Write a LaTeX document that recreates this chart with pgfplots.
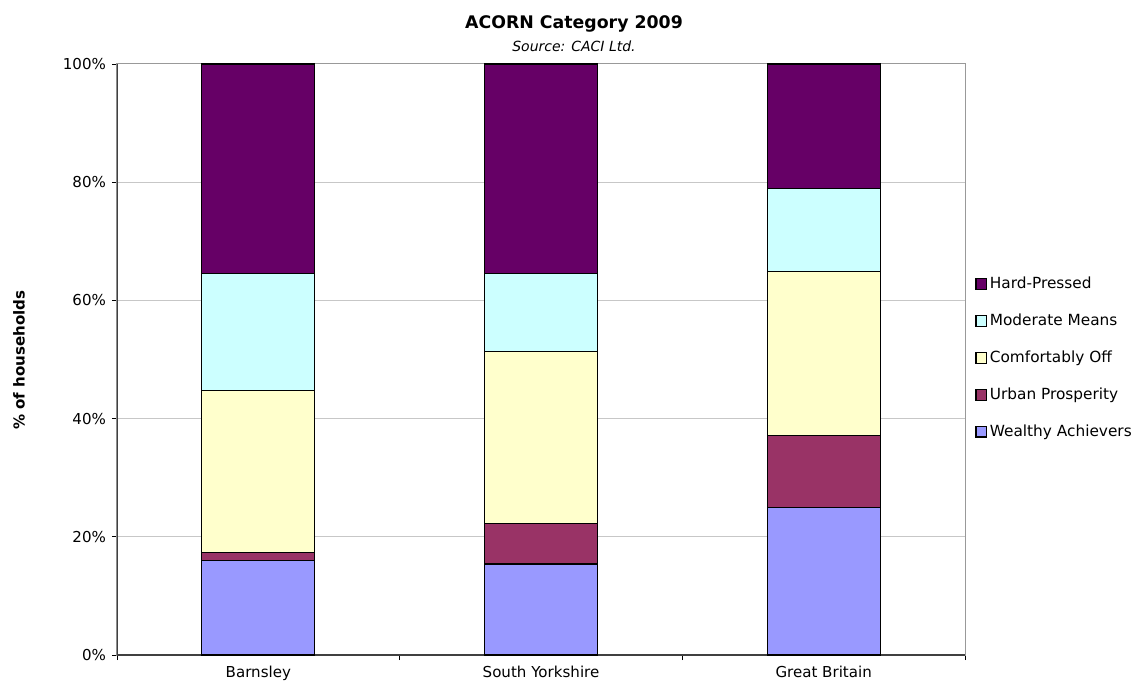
\documentclass[border=0pt]{standalone}
\usepackage{fontspec}
\setmainfont{DejaVu Sans}
\usepackage{pgfplots}
\pgfplotsset{compat=1.18}

\definecolor{hardp}{HTML}{660066}
\definecolor{moder}{HTML}{CCFFFF}
\definecolor{comfo}{HTML}{FFFFCC}
\definecolor{urban}{HTML}{993366}
\definecolor{wealt}{HTML}{9999FF}

\begin{document}
\begin{tikzpicture}
\path[use as bounding box] (0,0) rectangle (853.5pt,514.5pt);
\begin{axis}[
    at={(87.75pt,23.25pt)}, anchor=south west,
    scale only axis,
    width=636pt, height=443.25pt,
    ybar stacked,
    bar width=0.4,
    xmin=-0.5, xmax=2.5,
    ymin=0, ymax=100,
    xtick={-0.5,0.5,1.5,2.5},
    xticklabels={},
    extra x ticks={0,1,2},
    extra x tick labels={Barnsley,South Yorkshire,Great Britain},
    extra x tick style={major tick length=0pt, grid=none},
    xtick pos=bottom, ytick pos=left,
    ytick={0,20,40,60,80,100},
    yticklabels={0\%,20\%,40\%,60\%,80\%,100\%},
    tick align=outside,
    major tick length=3.75pt,
    tick style={black, line width=0.6pt},
    ymajorgrids,
    grid style={draw=black!22, line width=0.75pt},
    axis line style={draw=black!40, line width=0.75pt},
    ticklabel style={font=\fontsize{11.3}{13}\selectfont},
    xticklabel style={yshift=-5pt},
    yticklabel style={xshift=-1pt},
    every axis plot/.append style={draw=black, line width=0.8pt},
    legend style={draw=none, at={(rel axis cs:1.012,0.503)}, anchor=west,
        font=\fontsize{11.5}{13}\selectfont, row sep=13.5pt, inner sep=0pt,
        cells={anchor=west}},
    legend image code/.code={\draw[#1, line width=0.8pt] (0pt,-4pt) rectangle (8pt,4pt);},
    reverse legend,
]
\addplot[fill=wealt] coordinates {(0,16.0) (1,15.4) (2,24.9)};
\addplot[fill=urban] coordinates {(0,1.3) (1,6.8) (2,12.2)};
\addplot[fill=comfo] coordinates {(0,27.4) (1,29.1) (2,27.8)};
\addplot[fill=moder] coordinates {(0,19.8) (1,13.2) (2,14.1)};
\addplot[fill=hardp] coordinates {(0,35.5) (1,35.5) (2,21.0)};
\legend{Wealthy Achievers,Urban Prosperity,Comfortably Off,Moderate Means,Hard-Pressed}
\draw[black!75, line width=0.8pt] (rel axis cs:0,1) -- (rel axis cs:0,0) -- (rel axis cs:1,0);
\end{axis}
\node[rotate=90, font=\bfseries\fontsize{11.3}{13}\selectfont] at (14.25pt,244.5pt) {\% of households};
\node[font=\bfseries\fontsize{13}{15}\selectfont] at (430.5pt,496.9pt) {ACORN Category 2009};
\node[font=\itshape\fontsize{10.5}{12}\selectfont] at (430.5pt,479.6pt) {Source: CACI Ltd.};
\end{tikzpicture}
\end{document}
